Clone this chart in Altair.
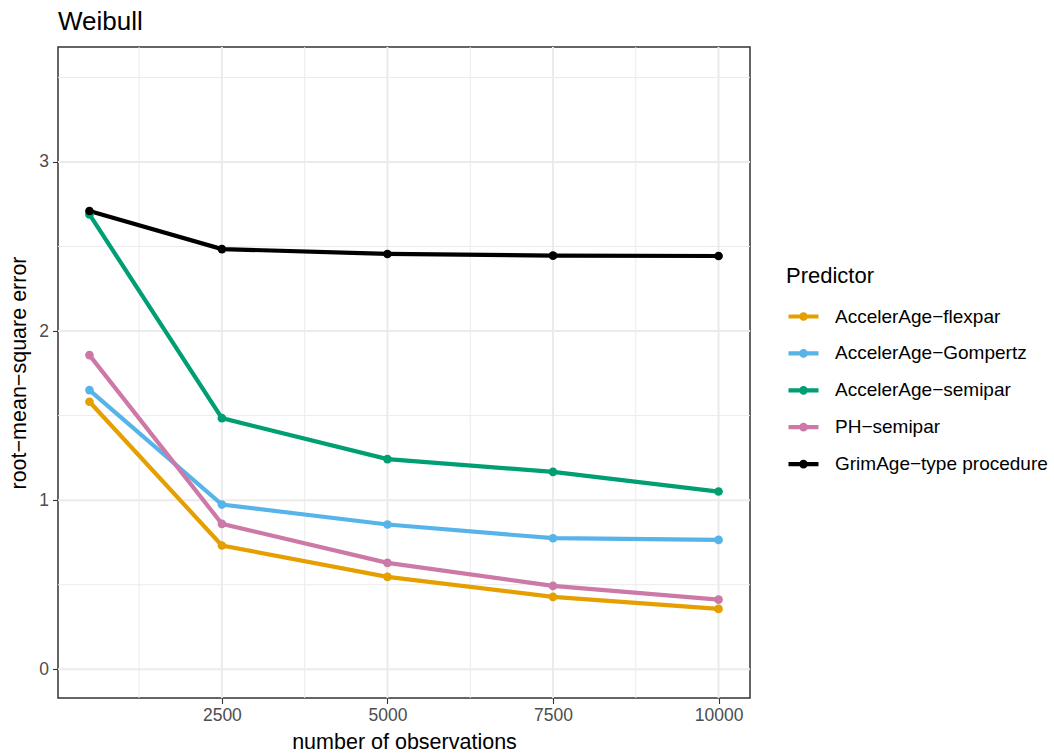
import altair as alt
import pandas as pd

# ---- data ----
n_obs = [500, 2500, 5000, 7500, 10000]
predictors = ["AccelerAge−flexpar", "AccelerAge−Gompertz", "AccelerAge−semipar",
              "PH−semipar", "GrimAge−type procedure"]
colors = ["#E69F00", "#56B4E9", "#009E73", "#CC79A7", "#000000"]
rmse_flexpar = [1.582, 0.732, 0.546, 0.428, 0.357]
rmse_gompertz = [1.651, 0.974, 0.856, 0.775, 0.765]
rmse_semipar = [2.690, 1.485, 1.243, 1.167, 1.051]
rmse_ph = [1.858, 0.860, 0.629, 0.493, 0.412]
rmse_grimage = [2.710, 2.485, 2.456, 2.446, 2.444]

x_major = [2500, 5000, 7500, 10000]
x_minor = [1250, 3750, 6250, 8750]
y_major = [0, 1, 2, 3]
y_minor = [0.5, 1.5, 2.5, 3.5]

series = [rmse_flexpar, rmse_gompertz, rmse_semipar, rmse_ph, rmse_grimage]
rows = []
for i, (name, vals) in enumerate(zip(predictors, series)):
    for n, v in zip(n_obs, vals):
        rows.append({"n": n, "rmse": v, "Predictor": name, "order": i})
df = pd.DataFrame(rows)

FONT = "Liberation Sans"
x_dom = [25, 10475]
y_dom = [-0.17, 3.68]

xscale = alt.Scale(domain=x_dom, nice=False, zero=False)
yscale = alt.Scale(domain=y_dom, nice=False, zero=False)
cscale = alt.Scale(domain=predictors, range=colors)

x_axis = alt.Axis(values=x_major, format="d", grid=False, domain=False,
                  tickColor="#333333", tickSize=5.5, tickWidth=1.1,
                  labelColor="#4D4D4D", labelFontSize=17.5, labelFont=FONT,
                  labelPadding=3, title="number of observations",
                  titleFont=FONT, titleFontSize=21.5, titleFontWeight="normal",
                  titleColor="black", titlePadding=7)
y_axis = alt.Axis(values=y_major, format="d", grid=False, domain=False,
                  tickColor="#333333", tickSize=5.5, tickWidth=1.1,
                  labelColor="#4D4D4D", labelFontSize=17.5, labelFont=FONT,
                  labelPadding=4, title="root−mean−square error",
                  titleFont=FONT, titleFontSize=21.5, titleFontWeight="normal",
                  titleColor="black", titlePadding=8)

# stroked legend glyph: a line with a small ring that the stroke fills into a dot
legend_symbol = ("M-1,0 L1,0 M0.15,0 A0.15,0.15 0 1,1 -0.15,0 "
                 "A0.15,0.15 0 1,1 0.15,0")
legend = alt.Legend(title="Predictor", orient="none",
                    legendX=728, legendY=219,
                    symbolType=legend_symbol, symbolSize=900,
                    symbolStrokeWidth=4.2, symbolOpacity=1,
                    labelFont=FONT, labelFontSize=19, labelLimit=400,
                    labelColor="black", labelOffset=14,
                    titleFont=FONT, titleFontSize=22,
                    titleFontWeight="normal", titleColor="black",
                    titlePadding=11, rowPadding=7.9, padding=0)

GRID = "#EBEBEB"
vminor = alt.Chart(pd.DataFrame({"g": x_minor})).mark_rule(color=GRID, strokeWidth=1).encode(
    x=alt.X("g:Q", scale=xscale, axis=x_axis))
vmajor = alt.Chart(pd.DataFrame({"g": x_major})).mark_rule(color=GRID, strokeWidth=2).encode(
    x=alt.X("g:Q", scale=xscale, axis=x_axis))
hminor = alt.Chart(pd.DataFrame({"g": y_minor})).mark_rule(color=GRID, strokeWidth=1).encode(
    y=alt.Y("g:Q", scale=yscale, axis=y_axis))
hmajor = alt.Chart(pd.DataFrame({"g": y_major})).mark_rule(color=GRID, strokeWidth=2).encode(
    y=alt.Y("g:Q", scale=yscale, axis=y_axis))

lines = alt.Chart(df).mark_line(strokeWidth=4.2).encode(
    x=alt.X("n:Q", scale=xscale, axis=x_axis),
    y=alt.Y("rmse:Q", scale=yscale, axis=y_axis),
    color=alt.Color("Predictor:N", scale=cscale, legend=legend),
    order=alt.Order("order:Q"),
)
points = alt.Chart(df).mark_point(filled=True, size=75, opacity=1).encode(
    x=alt.X("n:Q", scale=xscale, axis=x_axis),
    y=alt.Y("rmse:Q", scale=yscale, axis=y_axis),
    color=alt.Color("Predictor:N", scale=cscale, legend=legend),
)

chart = alt.layer(vminor, vmajor, hminor, hmajor, lines, points).properties(
    width=692, height=651,
    title=alt.TitleParams("Weibull", anchor="start", frame="group", font=FONT,
                          fontSize=26, fontWeight="normal", color="black",
                          baseline="alphabetic", offset=-10),
    autosize=alt.AutoSizeParams(type="none"),
    padding={"left": 58, "top": 47, "right": 304, "bottom": 57},
).configure(background="white").configure_view(stroke="#333333", strokeWidth=1.5)

chart.save("out.html", embed_options={"renderer": "svg", "actions": False})
